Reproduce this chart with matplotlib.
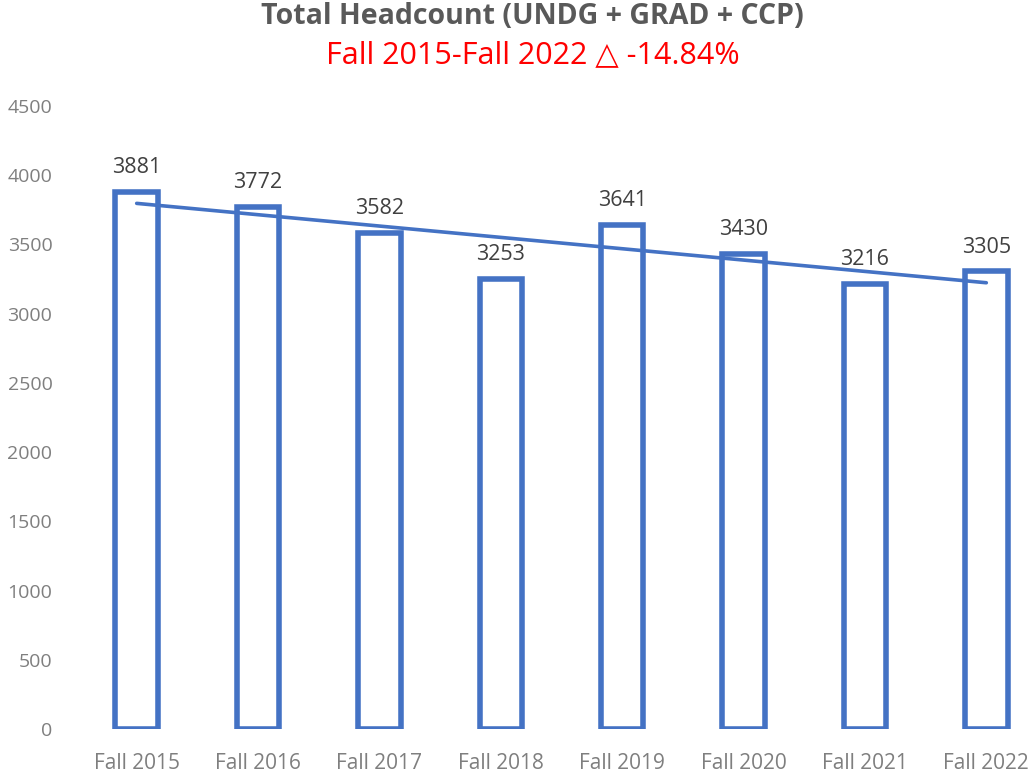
import matplotlib
matplotlib.use("Agg")
import matplotlib.pyplot as plt
import numpy as np

plt.rcParams['font.family'] = ['Open Sans', 'DejaVu Sans']

# data
terms = ['Fall 2015', 'Fall 2016', 'Fall 2017', 'Fall 2018',
         'Fall 2019', 'Fall 2020', 'Fall 2021', 'Fall 2022']
headcount = [3881, 3772, 3582, 3253, 3641, 3430, 3216, 3305]
yticks = [0, 500, 1000, 1500, 2000, 2500, 3000, 3500, 4000, 4500]

blue = '#4472C4'
W, H = 1030, 772
fig = plt.figure(figsize=(W / 100, H / 100), dpi=100)
ax = fig.add_axes([76 / W, (H - 729) / H, (1030 - 76) / W, (729 - 106) / H])

x = np.arange(len(terms))
ax.bar(x, headcount, width=0.35, facecolor='none', edgecolor=blue, linewidth=4.0)

# linear trendline
slope, icpt = np.polyfit(x, headcount, 1)
ax.plot(x, slope * x + icpt, color=blue, linewidth=2.6, solid_capstyle='round')

for xi, v in zip(x, headcount):
    ax.text(xi, v + 100, str(v), ha='center', va='bottom', fontsize=15.5, color='#404040')

ax.set_xlim(-0.5, 7.36)
ax.set_ylim(0, 4500)
ax.set_yticks(yticks)
ax.set_xticks(x)
ax.set_xticklabels(terms)
ax.tick_params(axis='both', length=0, labelsize=15, colors='#7f7f7f')
ax.tick_params(axis='x', pad=17)
ax.tick_params(axis='y', pad=17, labelsize=14)
for s in ax.spines.values():
    s.set_visible(False)

fig.text(0.517, 1 - 17 / H, 'Total Headcount (UNDG + GRAD + CCP)', ha='center', va='center',
         fontsize=20.5, fontweight='bold', color='#595959')
fig.text(0.517, 1 - 55 / H, 'Fall 2015-Fall 2022 \u25b3 -14.84%', ha='center', va='center',
         fontsize=22, color='#ff0000')

fig.savefig('out.png', dpi=100)
